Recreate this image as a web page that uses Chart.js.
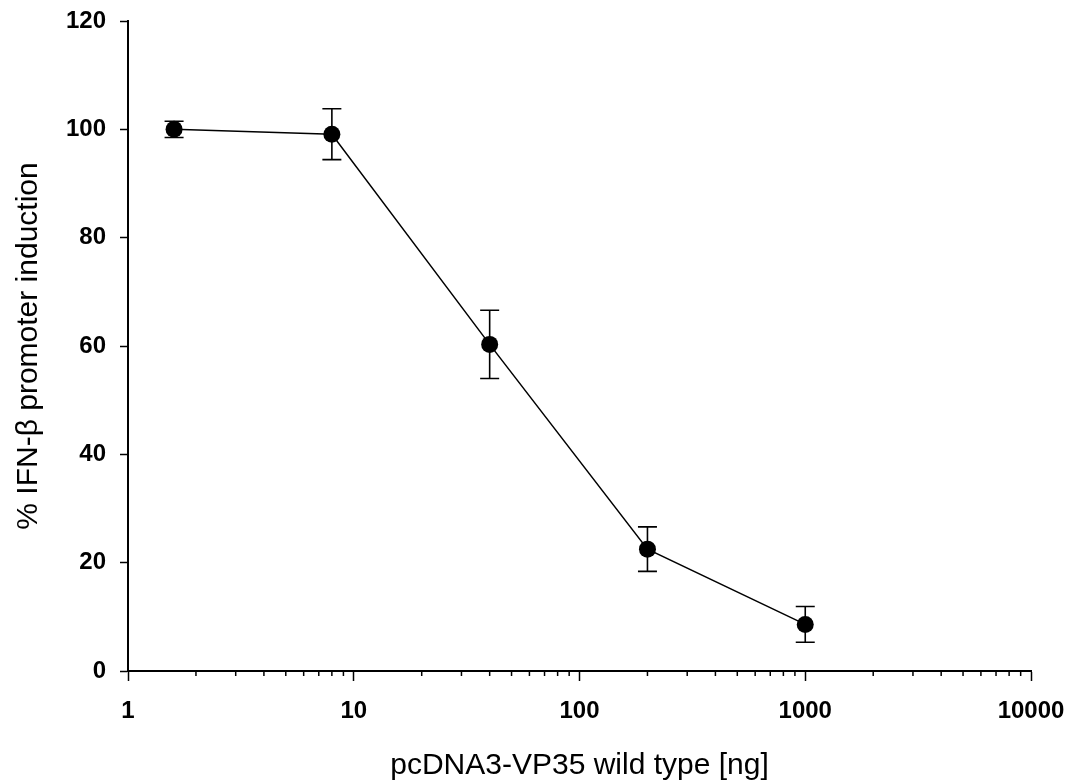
<!DOCTYPE html>
<html>
<head>
<meta charset="utf-8">
<script src="https://cdn.jsdelivr.net/npm/chart.js@4/dist/chart.umd.min.js"></script>
<style>
  html, body { margin: 0; padding: 0; background: #fff; }
  #wrap { width: 1073px; height: 781px; position: relative; }
</style>
</head>
<body>
<div id="wrap"><canvas id="doseChart"></canvas></div>
<script>
// data
const doses = [1.6, 8, 40, 200, 1000];          // pcDNA3-VP35 wild type [ng]
const induction = [100, 99.1, 60.3, 22.5, 8.6];  // % IFN-b promoter induction
const errors = [1.5, 4.7, 6.3, 4.1, 3.3];        // +/- error bar

const majorTicks = [1, 10, 100, 1000, 10000];
const minorSteps = [2, 3, 4, 5, 6, 7, 8, 9];
const yTicks = [0, 20, 40, 60, 80, 100, 120];

// log axis tick list: decades plus 2..9 inside each decade
const xTickValues = [];
majorTicks.forEach(function (m, i) {
    xTickValues.push(m);
    if (i < majorTicks.length - 1) {
        minorSteps.forEach(s => xTickValues.push(m * s));
    }
});

// keep label overflow from pushing the plot area around
function noOverflow(scale) {
    scale.paddingLeft = 0;
    scale.paddingRight = 0;
    scale.paddingTop = 0;
    scale.paddingBottom = 0;
}

const errorBars = {
    id: 'errorBars',
    beforeDatasetsDraw(chart) {
        const ctx = chart.ctx;
        const xs = chart.scales.x;
        const ys = chart.scales.y;
        ctx.save();
        ctx.strokeStyle = '#000';
        ctx.lineWidth = 1.6;
        for (let i = 0; i < doses.length; i++) {
            const x = xs.getPixelForValue(doses[i]);
            const top = ys.getPixelForValue(induction[i] + errors[i]);
            const bot = ys.getPixelForValue(induction[i] - errors[i]);
            ctx.beginPath();
            ctx.moveTo(x, top);
            ctx.lineTo(x, bot);
            ctx.moveTo(x - 9.5, top);
            ctx.lineTo(x + 9.5, top);
            ctx.moveTo(x - 9.5, bot);
            ctx.lineTo(x + 9.5, bot);
            ctx.stroke();
        }
        ctx.restore();
    }
};

const minorTickMarks = {
    id: 'minorTickMarks',
    afterDraw(chart) {
        const ctx = chart.ctx;
        const xs = chart.scales.x;
        const yBase = chart.chartArea.bottom;
        ctx.save();
        ctx.strokeStyle = '#000';
        ctx.lineWidth = 1.5;
        xTickValues.forEach(function (v) {
            if (majorTicks.includes(v)) return;
            const x = xs.getPixelForValue(v);
            ctx.beginPath();
            ctx.moveTo(x, yBase);
            ctx.lineTo(x, yBase + 5);
            ctx.stroke();
        });
        ctx.restore();
    }
};

new Chart(document.getElementById('doseChart').getContext('2d'), {
    type: 'scatter',
    data: {
        datasets: [{
            data: doses.map((d, i) => ({ x: d, y: induction[i] })),
            showLine: true,
            borderColor: '#000',
            borderWidth: 1.5,
            backgroundColor: '#000',
            pointRadius: 8.5,
            pointBorderWidth: 0,
            pointBackgroundColor: '#000'
        }]
    },
    options: {
        responsive: true,
        maintainAspectRatio: false,
        animation: false,
        layout: { padding: { top: 21, right: 42, left: 0, bottom: 0 } },
        plugins: {
            legend: { display: false },
            tooltip: { enabled: false }
        },
        scales: {
            x: {
                type: 'logarithmic',
                min: 1,
                max: 10000,
                afterBuildTicks: function (scale) {
                    scale.ticks = xTickValues.map(v => ({ value: v, major: majorTicks.includes(v) }));
                },
                afterFit: function (scale) { scale.height = 110; noOverflow(scale); },
                border: { display: true, color: '#000', width: 2 },
                grid: {
                    display: true,
                    drawOnChartArea: false,
                    drawTicks: true,
                    tickLength: 10,
                    tickWidth: 1.5,
                    tickColor: ctx => (ctx.tick && majorTicks.includes(ctx.tick.value)) ? '#000' : 'rgba(0,0,0,0)'
                },
                ticks: {
                    autoSkip: false,
                    maxRotation: 0,
                    padding: 16,
                    color: '#000',
                    font: { family: 'Liberation Sans', size: 24, weight: 'bold' },
                    callback: value => majorTicks.includes(value) ? String(value) : ''
                },
                title: {
                    display: true,
                    text: 'pcDNA3-VP35 wild type [ng]',
                    color: '#000',
                    padding: { top: 0, bottom: 0 },
                    font: { family: 'Liberation Sans', size: 30, lineHeight: 1 }
                }
            },
            y: {
                min: 0,
                max: 120,
                afterBuildTicks: function (scale) {
                    scale.ticks = yTicks.map(v => ({ value: v }));
                },
                afterFit: function (scale) { scale.width = 128; noOverflow(scale); },
                border: { display: true, color: '#000', width: 2 },
                grid: {
                    display: true,
                    drawOnChartArea: false,
                    drawTicks: true,
                    tickLength: 8,
                    tickWidth: 1.5,
                    tickColor: '#000'
                },
                ticks: {
                    padding: 14,
                    color: '#000',
                    font: { family: 'Liberation Sans', size: 24, weight: 'bold' }
                },
                title: {
                    display: true,
                    text: '% IFN-\u03B2 promoter induction',
                    color: '#000',
                    padding: { top: 14, bottom: 0 },
                    font: { family: 'Liberation Sans', size: 30, lineHeight: 1 }
                }
            }
        }
    },
    plugins: [errorBars, minorTickMarks]
});
</script>
</body>
</html>
